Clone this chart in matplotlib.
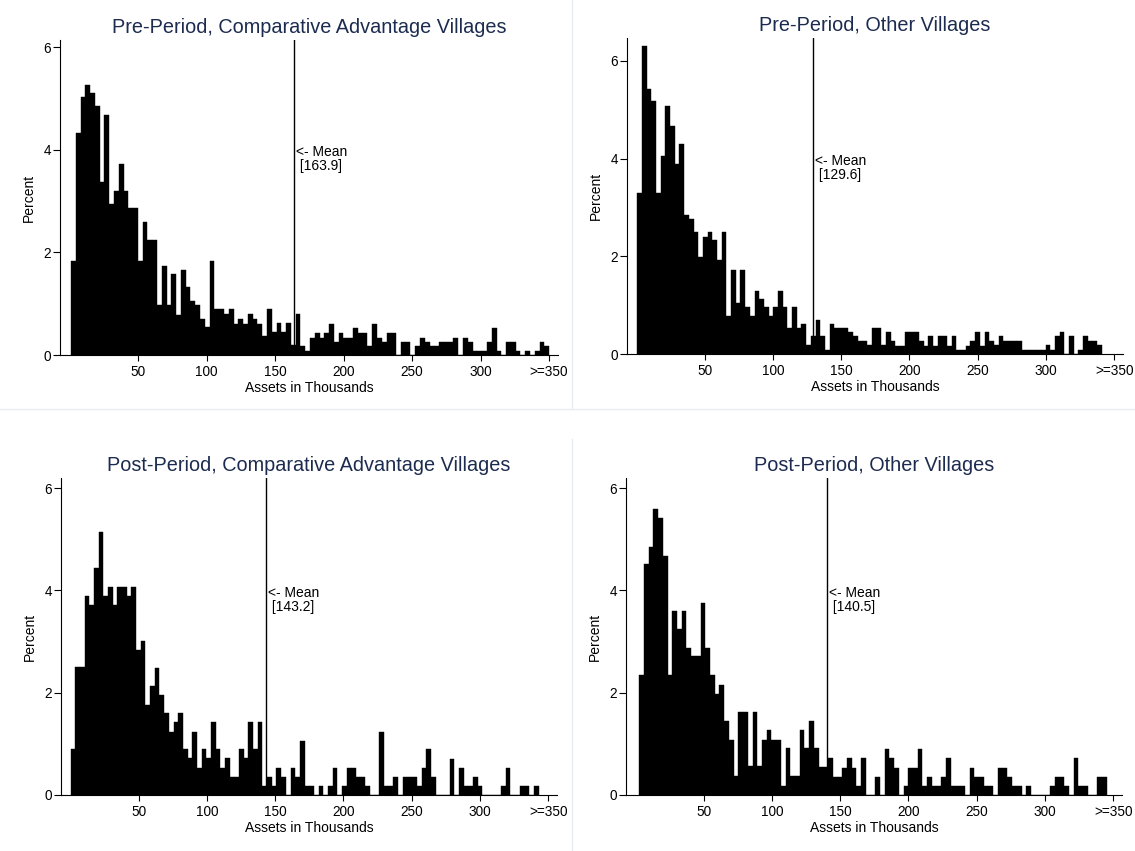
import matplotlib.pyplot as plt
import numpy as np
from matplotlib.lines import Line2D

plt.rcParams["font.family"] = ["Liberation Sans", "DejaVu Sans"]

# percent of households per asset bin, left to right
pre_ca_pct = [
    1.84, 4.33, 5.02, 5.27, 5.10, 4.85, 3.38, 4.68, 2.94, 3.20,
    3.72, 3.20, 2.86, 2.86, 1.84, 2.60, 2.25, 2.25, 0.97, 1.74,
    0.97, 1.57, 0.78, 1.66, 1.32, 1.05, 0.97, 0.71, 0.54, 1.84,
    0.89, 0.89, 0.80, 0.89, 0.60, 0.71, 0.60, 0.80, 0.71, 0.60,
    0.37, 0.89, 0.45, 0.63, 0.45, 0.63, 0.19, 0.80, 0.18, 0.08,
    0.34, 0.43, 0.34, 0.43, 0.60, 0.26, 0.43, 0.34, 0.34, 0.52,
    0.43, 0.43, 0.18, 0.60, 0.34, 0.26, 0.43, 0.43, 0.00, 0.26,
    0.26, 0.00, 0.18, 0.34, 0.26, 0.18, 0.18, 0.26, 0.26, 0.26,
    0.34, 0.00, 0.34, 0.26, 0.08, 0.08, 0.08, 0.26, 0.52, 0.08,
    0.00, 0.26, 0.26, 0.08, 0.00, 0.08, 0.00, 0.08, 0.26, 0.18,
]
pre_other_pct = [
    3.30, 6.31, 5.42, 5.18, 3.30, 4.05, 5.08, 4.66, 3.88, 4.30,
    2.85, 2.76, 2.50, 1.98, 2.40, 2.50, 2.33, 1.92, 2.50, 0.78,
    1.73, 1.04, 1.73, 0.96, 0.78, 1.30, 1.12, 0.96, 0.78, 0.96,
    1.30, 0.96, 0.53, 0.96, 0.53, 0.61, 0.18, 0.36, 0.70, 0.36,
    0.09, 0.61, 0.53, 0.53, 0.53, 0.45, 0.36, 0.27, 0.27, 0.18,
    0.53, 0.53, 0.18, 0.45, 0.27, 0.17, 0.17, 0.45, 0.45, 0.45,
    0.27, 0.17, 0.36, 0.17, 0.36, 0.36, 0.17, 0.36, 0.09, 0.09,
    0.17, 0.27, 0.45, 0.17, 0.45, 0.27, 0.18, 0.36, 0.27, 0.27,
    0.27, 0.27, 0.09, 0.09, 0.09, 0.09, 0.09, 0.18, 0.09, 0.36,
    0.45, 0.00, 0.36, 0.00, 0.09, 0.36, 0.27, 0.27, 0.18,
]
post_ca_pct = [
    0.89, 2.50, 2.50, 3.89, 3.72, 4.43, 5.14, 3.89, 4.07, 3.72,
    4.07, 4.07, 3.89, 4.07, 2.84, 3.02, 1.77, 2.13, 2.48, 1.96,
    1.60, 1.24, 1.42, 1.60, 0.89, 0.72, 1.24, 0.53, 0.89, 0.72,
    1.42, 0.89, 0.53, 0.72, 0.36, 0.36, 0.89, 0.72, 1.42, 0.89,
    1.42, 0.18, 0.36, 0.18, 0.53, 0.36, 0.00, 0.53, 0.36, 1.06,
    0.18, 0.18, 0.00, 0.18, 0.00, 0.18, 0.53, 0.00, 0.18, 0.53,
    0.53, 0.36, 0.36, 0.18, 0.00, 0.00, 1.24, 0.18, 0.18, 0.36,
    0.00, 0.36, 0.36, 0.36, 0.18, 0.53, 0.89, 0.36, 0.00, 0.00,
    0.00, 0.70, 0.00, 0.53, 0.18, 0.18, 0.36, 0.18, 0.00, 0.00,
    0.00, 0.00, 0.18, 0.53, 0.00, 0.00, 0.18, 0.18, 0.00, 0.18,
]
post_other_pct = [
    2.35, 4.51, 4.86, 5.59, 5.41, 4.67, 2.35, 3.60, 3.24, 3.60,
    2.88, 2.71, 2.71, 3.75, 2.88, 2.35, 1.98, 2.16, 1.45, 1.08,
    0.37, 1.63, 1.63, 0.57, 1.63, 0.57, 1.08, 1.27, 1.08, 1.08,
    0.18, 0.91, 0.37, 0.37, 1.27, 0.91, 1.45, 0.91, 0.55, 0.55,
    0.72, 0.36, 0.36, 0.53, 0.72, 0.53, 0.18, 0.72, 0.00, 0.00,
    0.36, 0.00, 0.90, 0.72, 0.53, 0.00, 0.18, 0.53, 0.53, 0.90,
    0.18, 0.36, 0.18, 0.18, 0.36, 0.72, 0.18, 0.18, 0.18, 0.00,
    0.53, 0.36, 0.36, 0.18, 0.18, 0.00, 0.53, 0.53, 0.36, 0.18,
    0.18, 0.00, 0.18, 0.00, 0.00, 0.00, 0.00, 0.18, 0.36, 0.36,
    0.18, 0.00, 0.72, 0.18, 0.18, 0.00, 0.00, 0.36, 0.36,
]

# lowest and highest bin edge of each histogram (thousands)
pre_ca_range = (1.0, 350.0)
pre_other_range = (0.5, 341.0)
post_ca_range = (0.0, 343.0)
post_other_range = (2.7, 345.2)

means = [163.9, 129.6, 143.2, 140.5]
titles = [
    "Pre-Period, Comparative Advantage Villages",
    "Pre-Period, Other Villages",
    "Post-Period, Comparative Advantage Villages",
    "Post-Period, Other Villages",
]
x_ticks = [50, 100, 150, 200, 250, 300, 350]
x_tick_labels = ["50", "100", "150", "200", "250", "300", ">=350"]
y_ticks = [0, 2, 4, 6]

W, H = 1135, 851
fig = plt.figure(figsize=(W / 100, H / 100), dpi=100)
fig.patch.set_facecolor("white")

# light panel borders from the combined graph
sep = "#e6ecef"
fig.add_artist(Line2D([571.5 / W] * 2, [1, 1 - 409 / H], transform=fig.transFigure, color=sep, lw=1))
fig.add_artist(Line2D([0, 1], [1 - 409 / H] * 2, transform=fig.transFigure, color=sep, lw=1))
fig.add_artist(Line2D([571.5 / W] * 2, [1 - 439 / H, 0], transform=fig.transFigure, color=sep, lw=1))

# axes boxes in pixels: left, top, right, bottom
boxes = [(60, 40, 558, 355), (627, 38, 1123, 354), (61, 478, 557, 795), (626, 478, 1122, 795)]
y_tops = [6.14, 6.47, 6.2, 6.2]
panels = [
    (pre_ca_pct, pre_ca_range),
    (pre_other_pct, pre_other_range),
    (post_ca_pct, post_ca_range),
    (post_other_pct, post_other_range),
]

for (pct, rng), box, ytop, m, title in zip(panels, boxes, y_tops, means, titles):
    l, t, r, b = box
    ax = fig.add_axes([l / W, 1 - b / H, (r - l) / W, (b - t) / H])
    edges = np.linspace(rng[0], rng[1], len(pct) + 1)
    ax.bar(edges[:-1], pct, width=np.diff(edges), align="edge",
           color="black", edgecolor="black", linewidth=0.3)
    ax.axvline(m, color="black", lw=1)
    ax.annotate(f"<- Mean\n [{m}]", xy=(m, 4), xytext=(1.5, -6.5),
                textcoords="offset points", ha="left", va="center",
                fontsize=10, linespacing=1.0)
    ax.set_xlim(-7, 356.5)
    ax.set_ylim(0, ytop)
    ax.set_xticks(x_ticks)
    ax.set_xticklabels(x_tick_labels)
    ax.set_yticks(y_ticks)
    ax.tick_params(axis="both", width=0.8, labelsize=9.8, direction="out")
    ax.tick_params(axis="x", length=4, pad=3)
    ax.tick_params(axis="y", length=4.8, pad=1.8)
    for side in ["top", "right"]:
        ax.spines[side].set_visible(False)
    for side in ["left", "bottom"]:
        ax.spines[side].set_linewidth(0.8)
    ax.set_xlabel("Assets in Thousands", fontsize=10, labelpad=1.5)
    ax.set_ylabel("Percent", fontsize=10, labelpad=5)
    fig.text((l + r) / 2 / W, 1 - (t - 7) / H, title, ha="center", va="baseline",
             fontsize=14.3, color="#1c2b4f")

fig.savefig("out.png", dpi=100, facecolor="white")
